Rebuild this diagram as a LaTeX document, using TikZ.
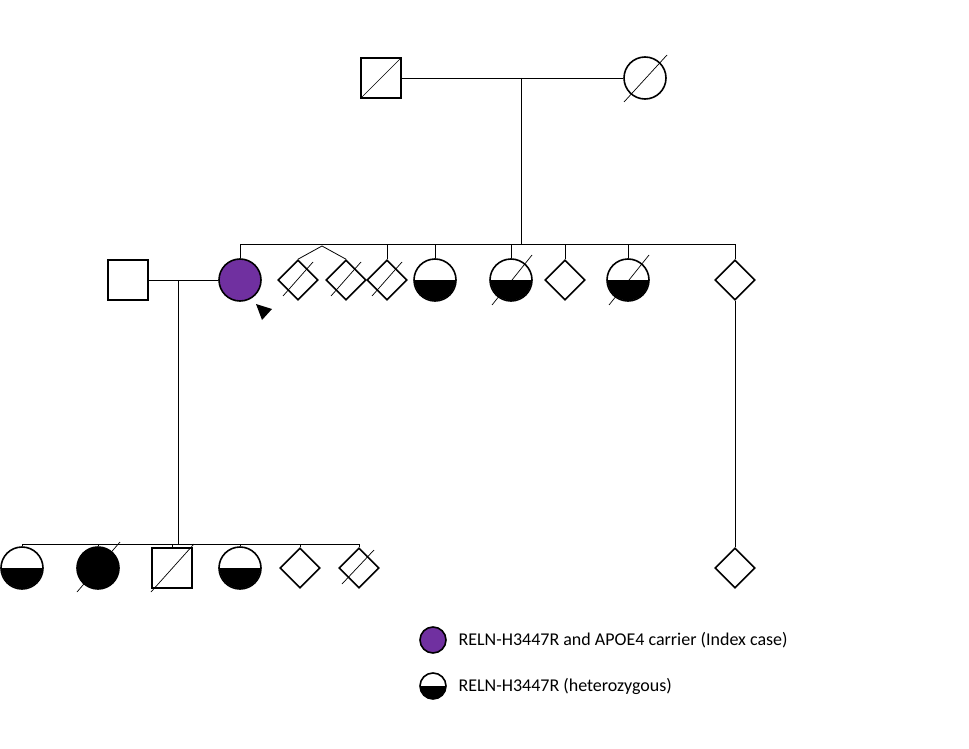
\documentclass[tikz,border=0pt]{standalone}
\usepackage{fontspec}
\setmainfont{Carlito}
\usetikzlibrary{shapes.geometric}
\begin{document}
\begin{tikzpicture}[x=1pt,y=-1pt,
  sq/.style={draw,line width=1.6pt,minimum size=40pt,inner sep=0pt},
  ci/.style={draw,line width=1.6pt,circle,minimum size=42pt,inner sep=0pt},
  di/.style={draw,line width=1.6pt,diamond,minimum size=40pt,inner sep=0pt},
  ln/.style={draw,line width=0.8pt},
  dec/.style={line width=0.7pt}]
\useasboundingbox (0,0) rectangle (969,749);
\definecolor{purp}{RGB}{112,48,160}
% generation I
\node[sq] (gf) at (381,78) {};
\node[ci] (gm) at (645,78) {};
\draw[dec] (361,98) -- (401,58);
\draw[dec] (624,102) -- (667,55);
\draw[ln] (gf) -- (gm);
\coordinate (m1) at (521,78);
\coordinate (s1) at (521,244);
\draw[ln] (m1) -- (s1);
\draw[ln] (240,244) -- (735,244);
% generation II
\node[sq] (hus) at (128,280) {};
\node[ci,fill=purp] (idx) at (240,280) {};
\node[di] (t1) at (298,280) {};
\node[di] (t2) at (346,280) {};
\node[di] (d3) at (387,280) {};
\fill (435,280) ++(-20.5,0) arc[start angle=180,end angle=0,radius=20.5] -- cycle;
\fill (511,280) ++(-20.5,0) arc[start angle=180,end angle=0,radius=20.5] -- cycle;
\fill (628,280) ++(-20.5,0) arc[start angle=180,end angle=0,radius=20.5] -- cycle;
\node[ci] (h1) at (435,280) {};
\node[ci] (h2) at (511,280) {};
\node[di] (d4) at (565,280) {};
\node[ci] (h3) at (628,280) {};
\node[di] (d5) at (735,280) {};
\draw[dec] (283,296) -- (313,262);
\draw[dec] (331,296) -- (361,262);
\draw[dec] (372,296) -- (402,262);
\draw[dec] (492,305) -- (532,255);
\draw[dec] (609,305) -- (649,255);
\coordinate (tw) at (322,246);
\draw[ln] (240,244) -- (idx.north);
\draw[ln] (tw) -- (t1.north);
\draw[ln] (tw) -- (t2.north);
\draw[ln] (387,244) -- (d3.north);
\draw[ln] (435,244) -- (h1.north);
\draw[ln] (511,244) -- (h2.north);
\draw[ln] (565,244) -- (d4.north);
\draw[ln] (628,244) -- (h3.north);
\draw[ln] (735,244) -- (d5.north);
\fill (256,304) -- (272,309) -- (262,320) -- cycle;
\draw[ln] (hus) -- (idx);
\coordinate (m2) at (178,280);
\coordinate (s2) at (178,544);
\draw[ln] (m2) -- (s2);
\draw[ln] (22,544) -- (359,544);
% generation III
\fill (22,568) ++(-20.5,0) arc[start angle=180,end angle=0,radius=20.5] -- cycle;
\fill (240,568) ++(-20.5,0) arc[start angle=180,end angle=0,radius=20.5] -- cycle;
\node[ci] (c1) at (22,568) {};
\node[ci,fill=black] (c2) at (98,568) {};
\node[sq] (c3) at (172,568) {};
\node[ci] (c4) at (240,568) {};
\node[di] (c5) at (300,568) {};
\node[di] (c6) at (359,568) {};
\node[di] (d6) at (735,568) {};
\draw[dec] (77,592) -- (120,542);
\draw[dec] (151,592) -- (194,544);
\draw[dec] (342,584) -- (374,550);
\foreach \n/\x in {c1/22,c2/98,c3/172,c4/240,c5/300,c6/359}{\draw[ln] (\x,544) -- (\n.north);}
\draw[ln] (d5) -- (d6);
% legend
\fill (433,686) ++(-13,0) arc[start angle=180,end angle=0,radius=13] -- cycle;
\node[ci,minimum size=26pt,fill=purp] (l1) at (433,640) {};
\node[ci,minimum size=26pt] (l2) at (433,686) {};
\node[anchor=west,font=\fontsize{18}{20}\selectfont] (t1l) at (455,640) {RELN-H3447R and APOE4 carrier (Index case)};
\node[anchor=west,font=\fontsize{18}{20}\selectfont] (t2l) at (455,686) {RELN-H3447R (heterozygous)};
\end{tikzpicture}
\end{document}
